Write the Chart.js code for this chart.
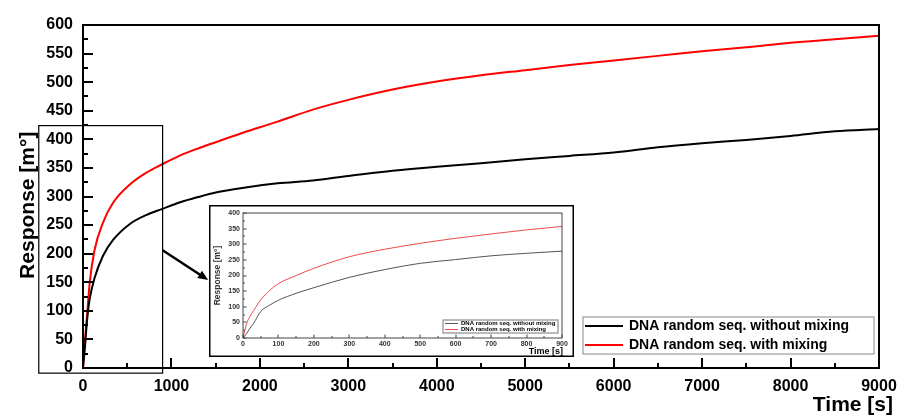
<!DOCTYPE html>
<html>
<head>
<meta charset="utf-8">
<script src="https://cdn.jsdelivr.net/npm/chart.js@4.4.0/dist/chart.umd.min.js"></script>
<style>
  body { margin: 0; background: #fff; }
  #wrap { position: relative; width: 899px; height: 417px; }
  #main { position: absolute; left: 0; top: 0; }
  #inset { position: absolute; left: 209px; top: 205px; }
</style>
</head>
<body>
<div id="wrap">
  <canvas id="main" width="899" height="417"></canvas>
  <canvas id="inset" width="365" height="152"></canvas>
</div>
<script>
// main plot, 0 - 9000 s
const timeMain = [0, 8, 20, 45, 75, 130, 225, 340, 530, 720, 890, 1100, 1300, 1500, 1800, 2200, 2600, 3000, 3500, 4000, 4500, 5000, 5500, 6000, 6500, 7000, 7500, 8000, 8500, 9000];
const withoutMain = [0, 14, 33, 82, 120, 157, 196, 224, 252, 268, 278, 290, 299, 307, 315, 323, 328, 336, 345, 352, 358, 365, 371, 377, 386, 393, 399, 406, 414, 418];
const withMain = [0, 20, 45, 90, 148, 206, 254, 289, 321, 342, 356, 372, 384, 395, 411, 431, 452, 469, 487, 501, 512, 521, 530, 538, 546, 554, 561, 569, 575, 581];

// inset, 0 - 900 s
const timeInset = [0, 10, 20, 30, 50, 75, 100, 150, 200, 300, 400, 500, 600, 700, 800, 900];
const withoutInset = [0, 14, 32, 47, 85, 105, 121, 143, 161, 194, 219, 239, 251, 263, 271, 278];
const withInset = [0, 45, 70, 88, 122, 152, 174, 200, 223, 260, 284, 303, 319, 333, 346, 357];

const labels = ['DNA random seq. without mixing', 'DNA random seq. with mixing'];

const FONT = "'Liberation Sans', Arial, sans-serif";

function toPoints(xs, ys) {
    return xs.map((x, i) => ({ x: x, y: ys[i] }));
}

// box round the plot area + inward ticks on bottom and left
const frameTicks = {
    id: 'frameTicks',
    afterDraw(chart, args, o) {
        const { ctx, chartArea: a, scales } = chart;
        ctx.save();
        ctx.strokeStyle = o.color;
        ctx.lineWidth = o.tickWidth;
        ctx.beginPath();
        scales.x.ticks.forEach(t => {
            const px = Math.round(scales.x.getPixelForValue(t.value));
            const len = t.value % o.xMajor === 0 ? o.major : o.minor;
            ctx.moveTo(px, a.bottom);
            ctx.lineTo(px, a.bottom - len);
        });
        scales.y.ticks.forEach(t => {
            const py = Math.round(scales.y.getPixelForValue(t.value));
            const len = t.value % o.yMajor === 0 ? o.major : o.minor;
            ctx.moveTo(a.left, py);
            ctx.lineTo(a.left + len, py);
        });
        ctx.stroke();
        ctx.lineWidth = o.width;
        ctx.strokeRect(a.left, a.top, a.right - a.left, a.bottom - a.top);
        ctx.restore();
    }
};

// legend box drawn inside the plot
const boxLegend = {
    id: 'boxLegend',
    afterDraw(chart, args, o) {
        const ctx = chart.ctx;
        ctx.save();
        ctx.strokeStyle = o.frame;
        ctx.lineWidth = 1;
        ctx.strokeRect(o.x, o.y, o.w, o.h);
        ctx.font = o.font;
        ctx.textBaseline = 'middle';
        ctx.fillStyle = '#000';
        chart.data.datasets.forEach((ds, i) => {
            const y = o.y + o.firstRow + i * o.rowGap;
            ctx.strokeStyle = ds.borderColor;
            ctx.lineWidth = o.lineWidth;
            ctx.beginPath();
            ctx.moveTo(o.x + 2, y);
            ctx.lineTo(o.x + 2 + o.lineLen, y);
            ctx.stroke();
            ctx.fillText(ds.label, o.x + 2 + o.lineLen + o.gap, y);
        });
        ctx.restore();
    }
};

// zoom box and arrow in the main plot, given in data units
const zoomMark = {
    id: 'zoomMark',
    afterDatasetsDraw(chart, args, o) {
        if (!o.rect) return;
        const { ctx, scales: { x, y } } = chart;
        ctx.save();
        ctx.strokeStyle = '#000';
        ctx.lineWidth = 1.2;
        const l = x.getPixelForValue(o.rect.xMin), r = x.getPixelForValue(o.rect.xMax);
        const t = y.getPixelForValue(o.rect.yMax), b = y.getPixelForValue(o.rect.yMin);
        ctx.strokeRect(l, t, r - l, b - t);
        const x0 = x.getPixelForValue(o.arrow.from[0]), y0 = y.getPixelForValue(o.arrow.from[1]);
        const x1 = x.getPixelForValue(o.arrow.to[0]), y1 = y.getPixelForValue(o.arrow.to[1]);
        const ang = Math.atan2(y1 - y0, x1 - x0);
        ctx.lineWidth = 2.5;
        ctx.beginPath();
        ctx.moveTo(x0, y0);
        ctx.lineTo(x1 - 6 * Math.cos(ang), y1 - 6 * Math.sin(ang));
        ctx.stroke();
        ctx.fillStyle = '#000';
        ctx.beginPath();
        ctx.moveTo(x1, y1);
        ctx.lineTo(x1 - 11 * Math.cos(ang - 0.4), y1 - 11 * Math.sin(ang - 0.4));
        ctx.lineTo(x1 - 11 * Math.cos(ang + 0.4), y1 - 11 * Math.sin(ang + 0.4));
        ctx.closePath();
        ctx.fill();
        ctx.restore();
    }
};

// x title at the lower right corner, past the plot edge
const cornerTitle = {
    id: 'cornerTitle',
    afterDraw(chart, args, o) {
        const ctx = chart.ctx;
        ctx.save();
        ctx.font = o.font;
        ctx.fillStyle = '#000';
        ctx.textAlign = 'right';
        ctx.textBaseline = 'middle';
        ctx.fillText(o.text, o.x, o.y);
        ctx.restore();
    }
};

const whiteBack = {
    id: 'whiteBack',
    beforeDraw(chart, args, o) {
        const ctx = chart.ctx;
        ctx.save();
        ctx.fillStyle = '#fff';
        ctx.fillRect(0, 0, chart.width, chart.height);
        if (o.frame) {
            ctx.strokeStyle = '#000';
            ctx.lineWidth = o.frame;
            ctx.strokeRect(o.frame / 2, o.frame / 2, chart.width - o.frame, chart.height - o.frame);
        }
        ctx.restore();
    }
};

const noGrid = { display: false, drawTicks: false, tickLength: 0 };

new Chart(document.getElementById('main'), {
    type: 'line',
    data: {
        datasets: [
            {
                label: labels[0],
                data: toPoints(timeMain, withoutMain),
                borderColor: '#000000',
                borderWidth: 2,
                pointRadius: 0,
                cubicInterpolationMode: 'monotone'
            },
            {
                label: labels[1],
                data: toPoints(timeMain, withMain),
                borderColor: '#ff0000',
                borderWidth: 2,
                pointRadius: 0,
                cubicInterpolationMode: 'monotone'
            }
        ]
    },
    plugins: [whiteBack, zoomMark, frameTicks, boxLegend, cornerTitle],
    options: {
        responsive: false,
        animation: false,
        layout: { padding: { top: 25, right: 20, left: 0, bottom: 0 } },
        scales: {
            x: {
                type: 'linear',
                min: 0,
                max: 9000,
                grid: noGrid,
                border: { display: false },
                ticks: {
                    stepSize: 500,
                    autoSkip: false,
                    maxRotation: 0,
                    padding: 9,
                    color: '#000',
                    font: { family: FONT, size: 16, weight: 'bold' },
                    callback: v => (v % 1000 === 0 ? v : '')
                },
                afterFit: s => { s.height = 49; s.paddingRight = 0; s.paddingLeft = 0; }
            },
            y: {
                min: 0,
                max: 600,
                grid: noGrid,
                border: { display: false },
                ticks: {
                    stepSize: 25,
                    autoSkip: false,
                    padding: 10,
                    color: '#000',
                    font: { family: FONT, size: 16, weight: 'bold' },
                    callback: v => (v % 50 === 0 ? v : '')
                },
                title: {
                    display: true,
                    text: 'Response [m°]   ',
                    color: '#000',
                    padding: { top: 16, bottom: 0 },
                    font: { family: FONT, size: 21, weight: 'bold' }
                },
                afterFit: s => { s.width = 83; }
            }
        },
        plugins: {
            legend: { display: false },
            tooltip: { enabled: false },
            frameTicks: { color: '#000', width: 2, tickWidth: 2, major: 10, minor: 5, xMajor: 1000, yMajor: 50 },
            boxLegend: {
                x: 583, y: 317, w: 291, h: 37, frame: '#888',
                firstRow: 9, rowGap: 19, lineLen: 38, gap: 6, lineWidth: 2,
                font: 'bold 14px ' + FONT
            },
            zoomMark: {
                rect: { xMin: -500, xMax: 900, yMin: -9, yMax: 424 },
                arrow: { from: [900, 206], to: [1415, 154] }
            },
            cornerTitle: { text: 'Time [s]', x: 893, y: 405, font: 'bold 21px ' + FONT }
        }
    }
});

new Chart(document.getElementById('inset'), {
    type: 'line',
    data: {
        datasets: [
            {
                label: labels[0],
                data: toPoints(timeInset, withoutInset),
                borderColor: '#555555',
                borderWidth: 1,
                pointRadius: 0,
                cubicInterpolationMode: 'monotone'
            },
            {
                label: labels[1],
                data: toPoints(timeInset, withInset),
                borderColor: '#ee4b4b',
                borderWidth: 1,
                pointRadius: 0,
                cubicInterpolationMode: 'monotone'
            }
        ]
    },
    plugins: [whiteBack, frameTicks, boxLegend, cornerTitle],
    options: {
        responsive: false,
        animation: false,
        layout: { padding: { top: 8, right: 12, left: 0, bottom: 0 } },
        scales: {
            x: {
                type: 'linear',
                min: 0,
                max: 900,
                grid: noGrid,
                border: { display: false },
                ticks: {
                    stepSize: 50,
                    autoSkip: false,
                    maxRotation: 0,
                    padding: 2,
                    color: '#333',
                    font: { family: FONT, size: 7, weight: 'bold' },
                    callback: v => (v % 100 === 0 ? v : '')
                },
                afterFit: s => { s.height = 19; }
            },
            y: {
                min: 0,
                max: 400,
                grid: noGrid,
                border: { display: false },
                ticks: {
                    stepSize: 25,
                    autoSkip: false,
                    padding: 3,
                    color: '#333',
                    font: { family: FONT, size: 7, weight: 'bold' },
                    callback: v => (v % 50 === 0 ? v : '')
                },
                title: {
                    display: true,
                    text: 'Response [m°]',
                    color: '#333',
                    padding: { top: 4, bottom: 0 },
                    font: { family: FONT, size: 8.5, weight: 'bold' }
                },
                afterFit: s => { s.width = 34; }
            }
        },
        plugins: {
            legend: { display: false },
            tooltip: { enabled: false },
            whiteBack: { frame: 1.5 },
            frameTicks: { color: '#444', width: 1, tickWidth: 1, major: 3.5, minor: 2, xMajor: 100, yMajor: 50 },
            boxLegend: {
                x: 234, y: 115, w: 115, h: 13, frame: '#777',
                firstRow: 3.5, rowGap: 6, lineLen: 13, gap: 3, lineWidth: 1,
                font: 'bold 6px ' + FONT
            },
            cornerTitle: { text: 'Time [s]', x: 354, y: 147, font: 'bold 9px ' + FONT }
        }
    }
});
</script>
</body>
</html>
